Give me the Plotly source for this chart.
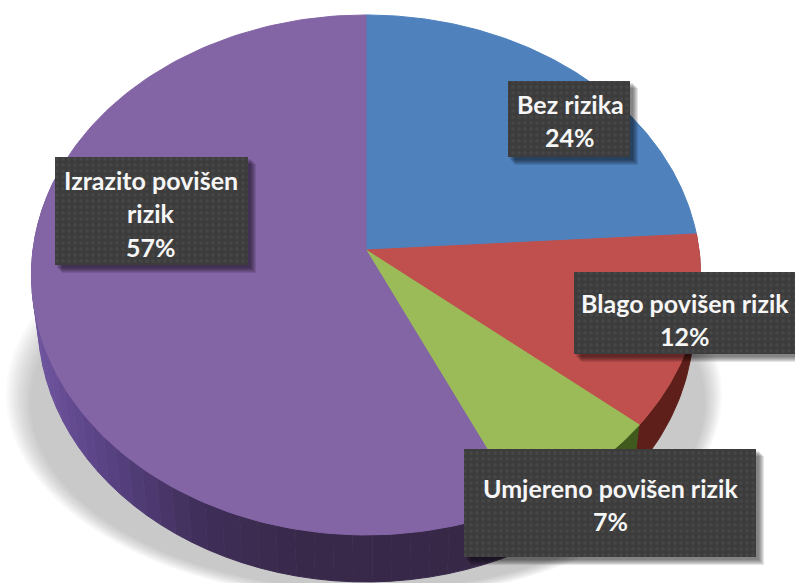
import numpy as np
import plotly.graph_objects as go

categories = ["Bez rizika", "Blago povišen rizik", "Umjereno povišen rizik", "Izrazito povišen rizik"]
values = [24, 12, 7, 57]
colors = ["#4f81bd", "#c0504d", "#9bbb59", "#8364a5"]
wall_colors = ["#2b4a70", "#5e1f1a", "#3f5a1c", "#3a2a4e"]
label_lines = [["Bez rizika", "24%"], ["Blago povišen rizik", "12%"],
               ["Umjereno povišen rizik", "7%"], ["Izrazito povišen", "rizik", "57%"]]

# pixel boxes of the labels: x0, x1, y0, y1, then the y of each text line
label_boxes = [(508, 630, 81, 157), (574, 795, 272, 354), (464, 756, 449, 557), (55, 248, 157, 265)]
label_text_x = [570, 685, 610, 151]
label_text_y = [[104, 137], [303, 336], [488, 521], [180, 213, 247]]

# disc projection, the pie is seen in perspective so the centre is off the ellipse middle
CX, CY = 366, 250
A, B, K = 333, 257.6, 0.096
DEPTH, BOTTOM_SCALE = 47, 0.98


def project(frac, bottom=False):
    ang = 2 * np.pi * np.asarray(frac)
    u, v = np.sin(ang), np.cos(ang)
    den = 1 + K * v
    x = A * u / den
    y = -B * v / den
    if bottom:
        return CX + BOTTOM_SCALE * x, CY + y + DEPTH
    return CX + x, CY + y


def hex_rgb(c):
    return np.array([int(c[i:i + 2], 16) for i in (1, 3, 5)], dtype=float)


def purple_wall(x):
    stops_x = [31, 100, 200, 300, 460]
    stops = [hex_rgb(c) for c in ["#6f55a0", "#5a4385", "#3f2e58", "#38294b", "#372848"]]
    rgb = [np.interp(x, stops_x, [s[i] for s in stops]) for i in range(3)]
    return "rgb({:.0f},{:.0f},{:.0f})".format(*rgb)


def add_poly(fig, x, y, color, width=1):
    fig.add_trace(go.Scatter(x=x, y=y, mode="lines", fill="toself", fillcolor=color,
                             line=dict(color=color, width=width), hoverinfo="skip", showlegend=False))


fig = go.Figure()

edges = np.concatenate([[0], np.cumsum(values)]) / sum(values)

# side wall first, the top face covers what is not visible
for i in [1, 2]:
    t = np.linspace(edges[i], edges[i + 1], 40)
    xa, ya = project(t)
    xb, yb = project(t[::-1], bottom=True)
    add_poly(fig, np.concatenate([xa, xb]), np.concatenate([ya, yb]), wall_colors[i])

purple_steps = np.linspace(edges[3], 0.80, 45)
for f0, f1 in zip(purple_steps[:-1], purple_steps[1:]):
    t = np.linspace(f0, f1, 4)
    xa, ya = project(t)
    xb, yb = project(t[::-1], bottom=True)
    add_poly(fig, np.concatenate([xa, xb]), np.concatenate([ya, yb]), purple_wall(xa.mean()))

# top face
for i in range(len(values)):
    t = np.linspace(edges[i], edges[i + 1], 160)
    x, y = project(t)
    add_poly(fig, np.concatenate([[CX], x, [CX]]), np.concatenate([[CY], y, [CY]]), colors[i])

# soft shadow behind the pie
shapes = [dict(type="rect", x0=0, x1=1, y0=0, y1=1, fillcolor="rgba(0,0,0,0)", line_width=0, layer="above")]
for s in range(12):
    g = s * 2.2
    shapes.append(dict(type="circle", x0=6 + g, x1=722 - g * 0.7, y0=190 + g, y1=600 - g * 0.4,
                       fillcolor="rgba(110,110,110,0.035)", line_width=0, layer="below"))

fig.update_layout(shapes=shapes)

# label boxes with the dotted fill, soft shadow under each one
annotations = []
for box, lines, tx, tys in zip(label_boxes, label_lines, label_text_x, label_text_y):
    x0, x1, y0, y1 = box
    for s in range(6):
        sx0, sx1, sy0, sy1 = x0 + 7 - s, x1 + 8 - s, y0 + 7 - s, y1 + 8 - s
        add_poly(fig, [sx0, sx1, sx1, sx0, sx0], [sy0, sy0, sy1, sy1, sy0], "rgba(0,0,0,0.10)", width=0)
    fig.add_trace(go.Scatter(x=[x0, x1, x1, x0, x0], y=[y0, y0, y1, y1, y0], mode="lines", fill="toself",
                             fillcolor="#3c3c3c", line=dict(color="#3c3c3c", width=0),
                             fillpattern=dict(shape=".", bgcolor="#3c3c3c", fgcolor="#505050", size=6, solidity=0.3),
                             hoverinfo="skip", showlegend=False))
    for line, ty in zip(lines, tys):
        annotations.append(dict(x=tx, y=ty, text="<b>{}</b>".format(line), showarrow=False,
                                xanchor="center", yanchor="middle",
                                font=dict(family="Lato", size=25, color="#f6f6f6")))

fig.update_layout(
    width=795, height=583,
    margin=dict(l=0, r=0, t=0, b=0),
    paper_bgcolor="#ffffff", plot_bgcolor="#ffffff",
    xaxis=dict(range=[0, 795], visible=False),
    yaxis=dict(range=[583, 0], visible=False),
    annotations=annotations,
)

fig.write_html("out.html", config=dict(displayModeBar=False), post_script="document.body.style.margin='0';")
